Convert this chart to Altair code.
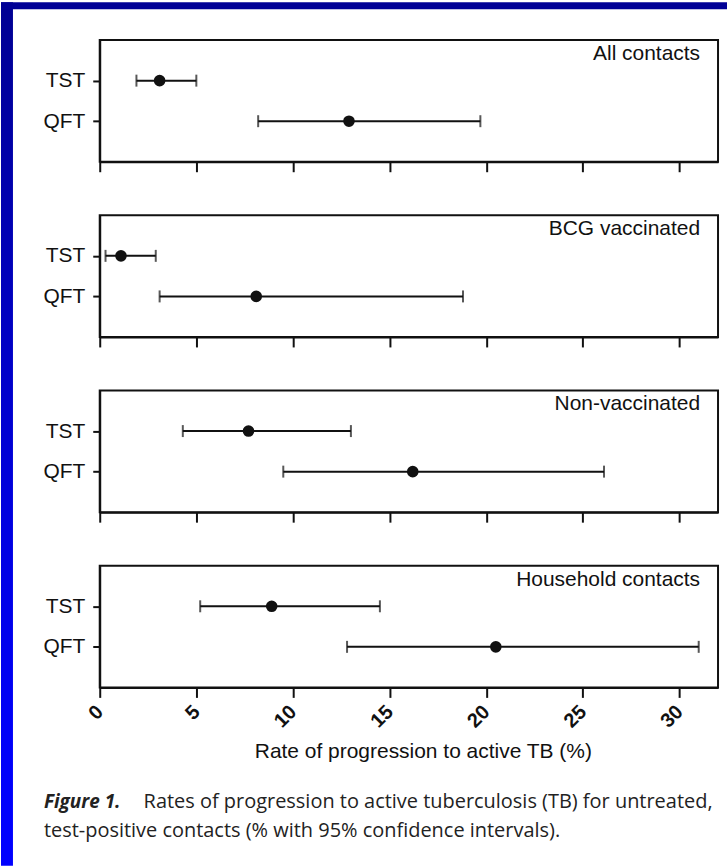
import altair as alt
import pandas as pd

# ---- data ----
groups = ["All contacts", "BCG vaccinated", "Non-vaccinated", "Household contacts"]
tests = ["TST", "QFT"]
tst_est = [3.1, 1.1, 7.7, 8.9]
tst_lo = [1.9, 0.3, 4.3, 5.2]
tst_hi = [5.0, 2.9, 13.0, 14.5]
qft_est = [12.9, 8.1, 16.2, 20.5]
qft_lo = [8.2, 3.1, 9.5, 12.8]
qft_hi = [19.7, 18.8, 26.1, 31.0]
x_ticks = [0, 5, 10, 15, 20, 25, 30]
x_title = "Rate of progression to active TB (%)"
caption_head = "Figure 1."
caption_line1 = "Rates of progression to active tuberculosis (TB) for untreated,"
caption_line2 = "test-positive contacts (% with 95% confidence intervals)."

rows = []
for i, g in enumerate(groups):
    rows.append({"group": g, "test": "TST", "est": tst_est[i], "lo": tst_lo[i], "hi": tst_hi[i]})
    rows.append({"group": g, "test": "QFT", "est": qft_est[i], "lo": qft_lo[i], "hi": qft_hi[i]})
df = pd.DataFrame(rows)

INK = "#111111"
FONT = "Liberation Sans"
PW, PH = 620, 122

xscale = alt.Scale(domain=[0, 32], nice=False, zero=False)
yscale = alt.Scale(type="point", domain=tests, padding=1)
yaxis = alt.Axis(title=None, labelFontSize=21, labelFont=FONT, labelColor=INK,
                 labelPadding=8, tickSize=7, tickWidth=2, tickColor=INK,
                 domainColor=INK, domainWidth=2, grid=False)


def panel(g, bottom):
    d = df[df["group"] == g]
    if bottom:
        xaxis = alt.Axis(values=x_ticks, grid=False, tickSize=10, tickWidth=2, tickColor=INK,
                         domainColor=INK, domainWidth=2,
                         labelAngle=-45, labelAlign="right", labelBaseline="middle",
                         labelPadding=11, labelFontSize=20, labelFont=FONT, labelColor=INK,
                         labelFontWeight="bold",
                         title=x_title, titleFontSize=21, titleFont=FONT, titleFontWeight="normal",
                         titleColor=INK, titleX=324, titleY=70, titleBaseline="alphabetic",
                         titleAlign="center")
    else:
        xaxis = alt.Axis(values=x_ticks, grid=False, tickSize=10, tickWidth=2, tickColor=INK,
                         domainColor=INK, domainWidth=2, labels=False, title=None)
    base = alt.Chart(d)
    rule = base.mark_rule(strokeWidth=2, color=INK).encode(
        x=alt.X("lo:Q", scale=xscale, axis=xaxis),
        x2=alt.X2("hi:Q"),
        y=alt.Y("test:N", scale=yscale, axis=yaxis),
    )
    cap_lo = base.mark_tick(thickness=2, size=12, color=INK).encode(
        x=alt.X("lo:Q"), y=alt.Y("test:N"))
    cap_hi = base.mark_tick(thickness=2, size=12, color=INK).encode(
        x=alt.X("hi:Q"), y=alt.Y("test:N"))
    dot = base.mark_circle(size=135, opacity=1, color=INK).encode(
        x=alt.X("est:Q"), y=alt.Y("test:N"))
    label = alt.Chart(pd.DataFrame({"group": [g]})).mark_text(
        align="right", baseline="alphabetic", fontSize=21, font=FONT, color=INK
    ).encode(x=alt.value(PW - 18), y=alt.value(20), text="group:N")
    return alt.layer(rule, cap_lo, cap_hi, dot, label).properties(
        width=PW, height=PH,
        view=alt.ViewBackground(stroke=INK, strokeWidth=2, fill="white"),
    )


panels = [panel(g, i == len(groups) - 1) for i, g in enumerate(groups)]

# caption
CFONT = "Open Sans"
CCOL = "#222222"
cap_head = alt.Chart(pd.DataFrame({"t": [caption_head]})).mark_text(
    align="left", baseline="alphabetic", fontSize=19, font=CFONT, fontStyle="italic",
    fontWeight="bold", color=CCOL
).encode(x=alt.value(-56), y=alt.value(67), text="t:N")
cap_l1 = alt.Chart(pd.DataFrame({"t": [caption_line1]})).mark_text(
    align="left", baseline="alphabetic", fontSize=20, font=CFONT, color=CCOL
).encode(x=alt.value(44), y=alt.value(67), text="t:N")
cap_l2 = alt.Chart(pd.DataFrame({"t": [caption_line2]})).mark_text(
    align="left", baseline="alphabetic", fontSize=20, font=CFONT, color=CCOL
).encode(x=alt.value(-56), y=alt.value(96), text="t:N")
caption = alt.layer(cap_head, cap_l1, cap_l2).properties(
    width=PW, height=100, view=alt.ViewBackground(stroke="transparent"))

main = alt.vconcat(*panels, caption, spacing=53.7, bounds="flush")

# blue slide border (left gradient strip + top strip)
blue_grad = alt.Gradient(
    gradient="linear", x1=0, x2=0, y1=0, y2=1,
    stops=[alt.GradientStop(color="#000092", offset=0),
           alt.GradientStop(color="#0000b8", offset=0.3),
           alt.GradientStop(color="#0000e0", offset=0.6),
           alt.GradientStop(color="#0000f8", offset=0.85),
           alt.GradientStop(color="#0000ff", offset=1)])
one = pd.DataFrame({"k": [0]})
left_rect = alt.Chart(one).mark_rect(color=blue_grad).encode(
    x=alt.value(0), x2=alt.value(12), y=alt.value(-38), y2=alt.value(828))
top_rect = alt.Chart(one).mark_rect(color="#000096").encode(
    x=alt.value(0), x2=alt.value(728), y=alt.value(-38), y2=alt.value(-31))
border = alt.layer(left_rect, top_rect).properties(
    width=12, height=10, view=alt.ViewBackground(stroke="transparent"))

chart = alt.hconcat(border, main, spacing=87, bounds="flush").properties(
    padding=0, background="white"
).configure_view(stroke="transparent")

chart.save("out.html", embed_options={"renderer": "svg", "actions": False})
